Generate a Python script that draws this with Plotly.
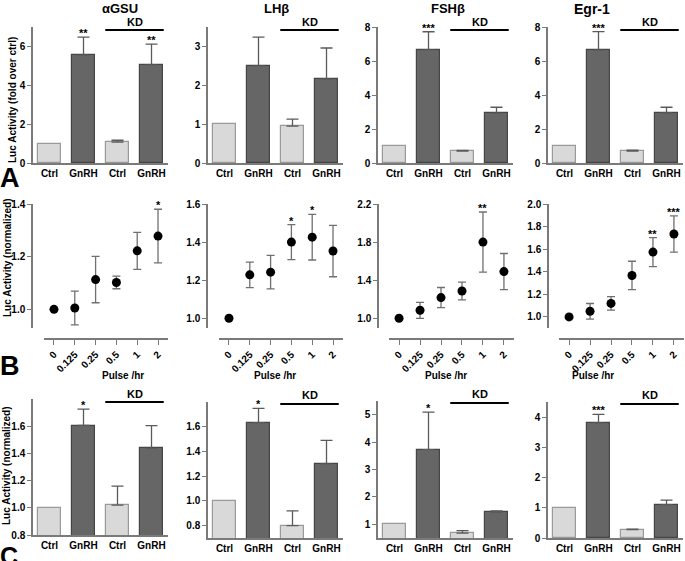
import plotly.graph_objects as go

W, H = 685, 561

genes = ["αGSU", "LHβ", "FSHβ", "Egr-1"]
bar_labels = ["Ctrl", "GnRH", "Ctrl", "GnRH"]
pulse_labels = ["0", "0.125", "0.25", "0.5", "1", "2"]

# Row A: fold over ctrl
a_agsu_mean = [1.0, 5.55, 1.07, 5.05]
a_agsu_err = [0, 0.93, 0.10, 1.07]
a_agsu_sig = ["", "**", "", "**"]
a_lhb_mean = [1.0, 2.50, 0.95, 2.16]
a_lhb_err = [0, 0.74, 0.18, 0.80]
a_lhb_sig = ["", "", "", ""]
a_fshb_mean = [1.0, 6.70, 0.70, 2.95]
a_fshb_err = [0, 1.07, 0.05, 0.35]
a_fshb_sig = ["", "***", "", ""]
a_egr1_mean = [1.0, 6.68, 0.70, 2.96]
a_egr1_err = [0, 1.10, 0.06, 0.34]
a_egr1_sig = ["", "***", "", ""]

# Row B: pulse frequency
b_agsu_mean = [1.0, 1.005, 1.113, 1.102, 1.222, 1.278]
b_agsu_err = [0, 0.064, 0.088, 0.024, 0.070, 0.102]
b_agsu_sig = ["", "", "", "", "", "*"]
b_lhb_mean = [1.0, 1.228, 1.242, 1.400, 1.426, 1.353]
b_lhb_err = [0, 0.067, 0.088, 0.092, 0.120, 0.135]
b_lhb_sig = ["", "", "", "*", "*", ""]
b_fshb_mean = [1.0, 1.084, 1.217, 1.287, 1.800, 1.490]
b_fshb_err = [0, 0.084, 0.106, 0.093, 0.316, 0.190]
b_fshb_sig = ["", "", "", "", "**", ""]
b_egr1_mean = [1.0, 1.050, 1.120, 1.367, 1.574, 1.734]
b_egr1_err = [0, 0.069, 0.059, 0.126, 0.128, 0.160]
b_egr1_sig = ["", "", "", "", "**", "***"]

# Row C: normalized
c_agsu_mean = [1.0, 1.605, 1.02, 1.437]
c_agsu_err = [0, 0.12, 0.14, 0.167]
c_agsu_sig = ["", "*", "", ""]
c_lhb_mean = [1.0, 1.632, 0.80, 1.30]
c_lhb_err = [0, 0.116, 0.12, 0.19]
c_lhb_sig = ["", "*", "", ""]
c_fshb_mean = [1.0, 3.726, 0.68, 1.44]
c_fshb_err = [0, 1.37, 0.09, 0.045]
c_fshb_sig = ["", "*", "", ""]
c_egr1_mean = [1.0, 3.81, 0.28, 1.10]
c_egr1_err = [0, 0.28, 0.01, 0.15]
c_egr1_sig = ["", "***", "", ""]

FONT = "Liberation Sans, Arial, sans-serif"
LIGHT, LIGHT_LINE = "#d9d9d9", "#9a9a9a"
DARK, DARK_LINE = "#666666", "#454545"
AXC = "#7a7a7a"
ERRC = "#5a5a5a"

fig = go.Figure()
layout = {}
annotations = []
shapes = []


def fx(p):
    return p / W


def fy(p):
    return 1 - p / H


col_x = [(33, 168), (208, 343), (378, 513), (548, 683)]
col_title_x = [100, 276, 448, 612]


def bar_panel(k, col, mean, err, sig, ydom, yrange, ytick, fmt, kd_y, kd_text_y):
    xa, ya = f"xaxis{k}", f"yaxis{k}"
    xr, yr = f"x{k}", f"y{k}"
    idx = list(range(len(mean)))
    fig.add_trace(go.Bar(
        x=idx, y=mean, width=0.68, xaxis=xr, yaxis=yr,
        marker=dict(color=[LIGHT, DARK, LIGHT, DARK],
                    line=dict(color=[LIGHT_LINE, DARK_LINE, LIGHT_LINE, DARK_LINE], width=1.2)),
        showlegend=False, hoverinfo="skip"))
    ex = [i for i in idx if err[i] > 0]
    fig.add_trace(go.Scatter(
        x=ex, y=[mean[i] for i in ex], mode="markers", xaxis=xr, yaxis=yr,
        marker=dict(size=1, opacity=0),
        error_y=dict(type="data", symmetric=False, array=[err[i] for i in ex],
                     arrayminus=[0] * len(ex), color=ERRC, thickness=1.3, width=6),
        showlegend=False, hoverinfo="skip"))
    layout[xa] = dict(domain=[fx(col_x[col][0]), fx(col_x[col][1])], range=[-0.485, 3.485],
                      anchor=yr, showline=True, linecolor=AXC, linewidth=1.5, ticks="",
                      tickvals=idx, ticktext=bar_labels, showgrid=False, zeroline=False,
                      automargin=False,
                      tickfont=dict(family=FONT, size=10, color="black", weight="bold"))
    layout[ya] = dict(domain=[fy(ydom[1]), fy(ydom[0])], range=yrange, anchor=xr,
                      showline=True, linecolor=AXC, linewidth=1.5, ticks="outside",
                      ticklen=4, tickwidth=1.2, tickcolor=AXC, tickvals=ytick, tickformat=fmt,
                      showgrid=False, zeroline=False, automargin=False,
                      tickfont=dict(family=FONT, size=10, color="black", weight="bold"))
    for i in idx:
        if sig[i]:
            annotations.append(dict(x=i, y=mean[i] + err[i], xref=xr, yref=yr, text=sig[i],
                                    showarrow=False, yanchor="bottom", yshift=-4,
                                    font=dict(family=FONT, size=11, color="black", weight="bold")))
    shapes.append(dict(type="line", xref=xr, yref="paper", x0=1.64, x1=3.36,
                       y0=fy(kd_y), y1=fy(kd_y), line=dict(color="black", width=2)))
    annotations.append(dict(x=2.5, y=fy(kd_text_y), xref=xr, yref="paper", text="KD",
                            showarrow=False, yanchor="middle",
                            font=dict(family=FONT, size=11, color="black", weight="bold")))


b_xdom = [(44, 168), (219, 343), (389, 514), (559, 684)]
b_ypos = [32, 207, 378, 548]


def pulse_panel(k, col, mean, err, sig, yrange, ytick, fmt):
    xa, ya = f"xaxis{k}", f"yaxis{k}"
    xr, yr = f"x{k}", f"y{k}"
    idx = list(range(len(mean)))
    fig.add_trace(go.Scatter(
        x=idx, y=mean, mode="markers", xaxis=xr, yaxis=yr,
        marker=dict(size=9, color="black"),
        error_y=dict(type="data", array=err, color="#707070", thickness=1.3, width=4),
        showlegend=False, hoverinfo="skip", cliponaxis=False))
    layout[xa] = dict(domain=[fx(b_xdom[col][0]), fx(b_xdom[col][1])], range=[-0.48, 5.48],
                      anchor="free", position=fy(339), showline=True, linecolor=AXC,
                      linewidth=1.5, ticks="outside", ticklen=5, tickwidth=1.2, tickcolor=AXC,
                      tickvals=idx, ticktext=pulse_labels, tickangle=-45,
                      showgrid=False, zeroline=False, automargin=False,
                      tickfont=dict(family=FONT, size=10, color="black", weight="bold"))
    layout[ya] = dict(domain=[fy(328), fy(204)], range=yrange, anchor="free",
                      position=fx(b_ypos[col]), showline=True, linecolor=AXC, linewidth=1.5,
                      ticks="outside", ticklen=4, tickwidth=1.2, tickcolor=AXC,
                      tickvals=ytick, tickformat=fmt, showgrid=False, zeroline=False,
                      automargin=False,
                      tickfont=dict(family=FONT, size=10, color="black", weight="bold"))
    for i in idx:
        if sig[i]:
            annotations.append(dict(x=i, y=mean[i] + err[i], xref=xr, yref=yr, text=sig[i],
                                    showarrow=False, yanchor="bottom", yshift=-4,
                                    font=dict(family=FONT, size=11, color="black", weight="bold")))
    annotations.append(dict(x=fx((b_ypos[col] + b_xdom[col][1]) / 2), y=fy(383), xref="paper",
                            yref="paper", text="Pulse /hr", showarrow=False,
                            font=dict(family=FONT, size=10, color="black", weight="bold")))


# Row A
bar_panel(1, 0, a_agsu_mean, a_agsu_err, a_agsu_sig, (27, 163), [0, 7], [0, 2, 4, 6], "d", 30, 22)
bar_panel(2, 1, a_lhb_mean, a_lhb_err, a_lhb_sig, (27, 163), [0, 3.5], [0, 1, 2, 3], "d", 30, 22)
bar_panel(3, 2, a_fshb_mean, a_fshb_err, a_fshb_sig, (27, 163), [0, 8.05], [0, 2, 4, 6, 8], "d", 30, 22)
bar_panel(4, 3, a_egr1_mean, a_egr1_err, a_egr1_sig, (27, 163), [0, 8.05], [0, 2, 4, 6, 8], "d", 30, 22)

# Row B
pulse_panel(5, 0, b_agsu_mean, b_agsu_err, b_agsu_sig, [0.929, 1.4], [1.0, 1.2, 1.4], ".1f")
pulse_panel(6, 1, b_lhb_mean, b_lhb_err, b_lhb_sig, [0.949, 1.6], [1.0, 1.2, 1.4, 1.6], ".1f")
pulse_panel(7, 2, b_fshb_mean, b_fshb_err, b_fshb_sig, [0.898, 2.2], [1.0, 1.4, 1.8, 2.2], ".1f")
pulse_panel(8, 3, b_egr1_mean, b_egr1_err, b_egr1_sig, [0.902, 2.0], [1.0, 1.2, 1.4, 1.6, 1.8, 2.0], ".1f")

# Row C
bar_panel(9, 0, c_agsu_mean, c_agsu_err, c_agsu_sig, (399, 535), [0.8, 1.8], [0.8, 1.0, 1.2, 1.4, 1.6], ".1f", 402, 394)
bar_panel(10, 1, c_lhb_mean, c_lhb_err, c_lhb_sig, (402, 538), [0.7, 1.8], [0.8, 1.0, 1.2, 1.4, 1.6], ".1f", 404, 395)
bar_panel(11, 2, c_fshb_mean, c_fshb_err, c_fshb_sig, (401, 538), [0.5, 5.5], [1, 2, 3, 4, 5], "d", 403, 394)
bar_panel(12, 3, c_egr1_mean, c_egr1_err, c_egr1_sig, (402, 538), [0, 4.5], [0, 1, 2, 3, 4], "d", 404, 395)

# Titles
for g, cx, fs in zip(genes, col_title_x, [13, 13, 13, 14]):
    annotations.append(dict(x=fx(cx), y=fy(9), xref="paper", yref="paper", text=g,
                            showarrow=False, yanchor="middle",
                            font=dict(family=FONT, size=fs, color="black", weight="bold")))

# Y-axis titles
for txt, cx, cy in [("Luc Activity (fold over ctrl)", 13, 100), ("Luc Activity (normalized)", 7, 258),
                    ("Luc Activity (normalized)", 6, 466)]:
    annotations.append(dict(x=fx(cx), y=fy(cy), xref="paper", yref="paper", text=txt,
                            showarrow=False, textangle=-90, xanchor="center", yanchor="middle",
                            font=dict(family=FONT, size=10, color="black", weight="bold")))

# Panel letters
for txt, cx, cy, fs in [("A", 10, 178, 27), ("B", 10, 366, 27), ("C", 9, 556, 25)]:
    annotations.append(dict(x=fx(cx), y=fy(cy), xref="paper", yref="paper", text=txt,
                            showarrow=False, xanchor="center", yanchor="middle",
                            font=dict(family=FONT, size=fs, color="black", weight="bold")))

fig.update_layout(
    width=W, height=H, margin=dict(l=0, r=0, t=0, b=0, autoexpand=False),
    paper_bgcolor="white", plot_bgcolor="white", bargap=0,
    annotations=annotations, shapes=shapes, showlegend=False,
    **layout)

fig.write_html(
    "out.html",
    config={"displayModeBar": False},
    post_script="document.body.style.margin='0';document.body.style.padding='0';"
                "document.body.style.overflow='hidden';")
